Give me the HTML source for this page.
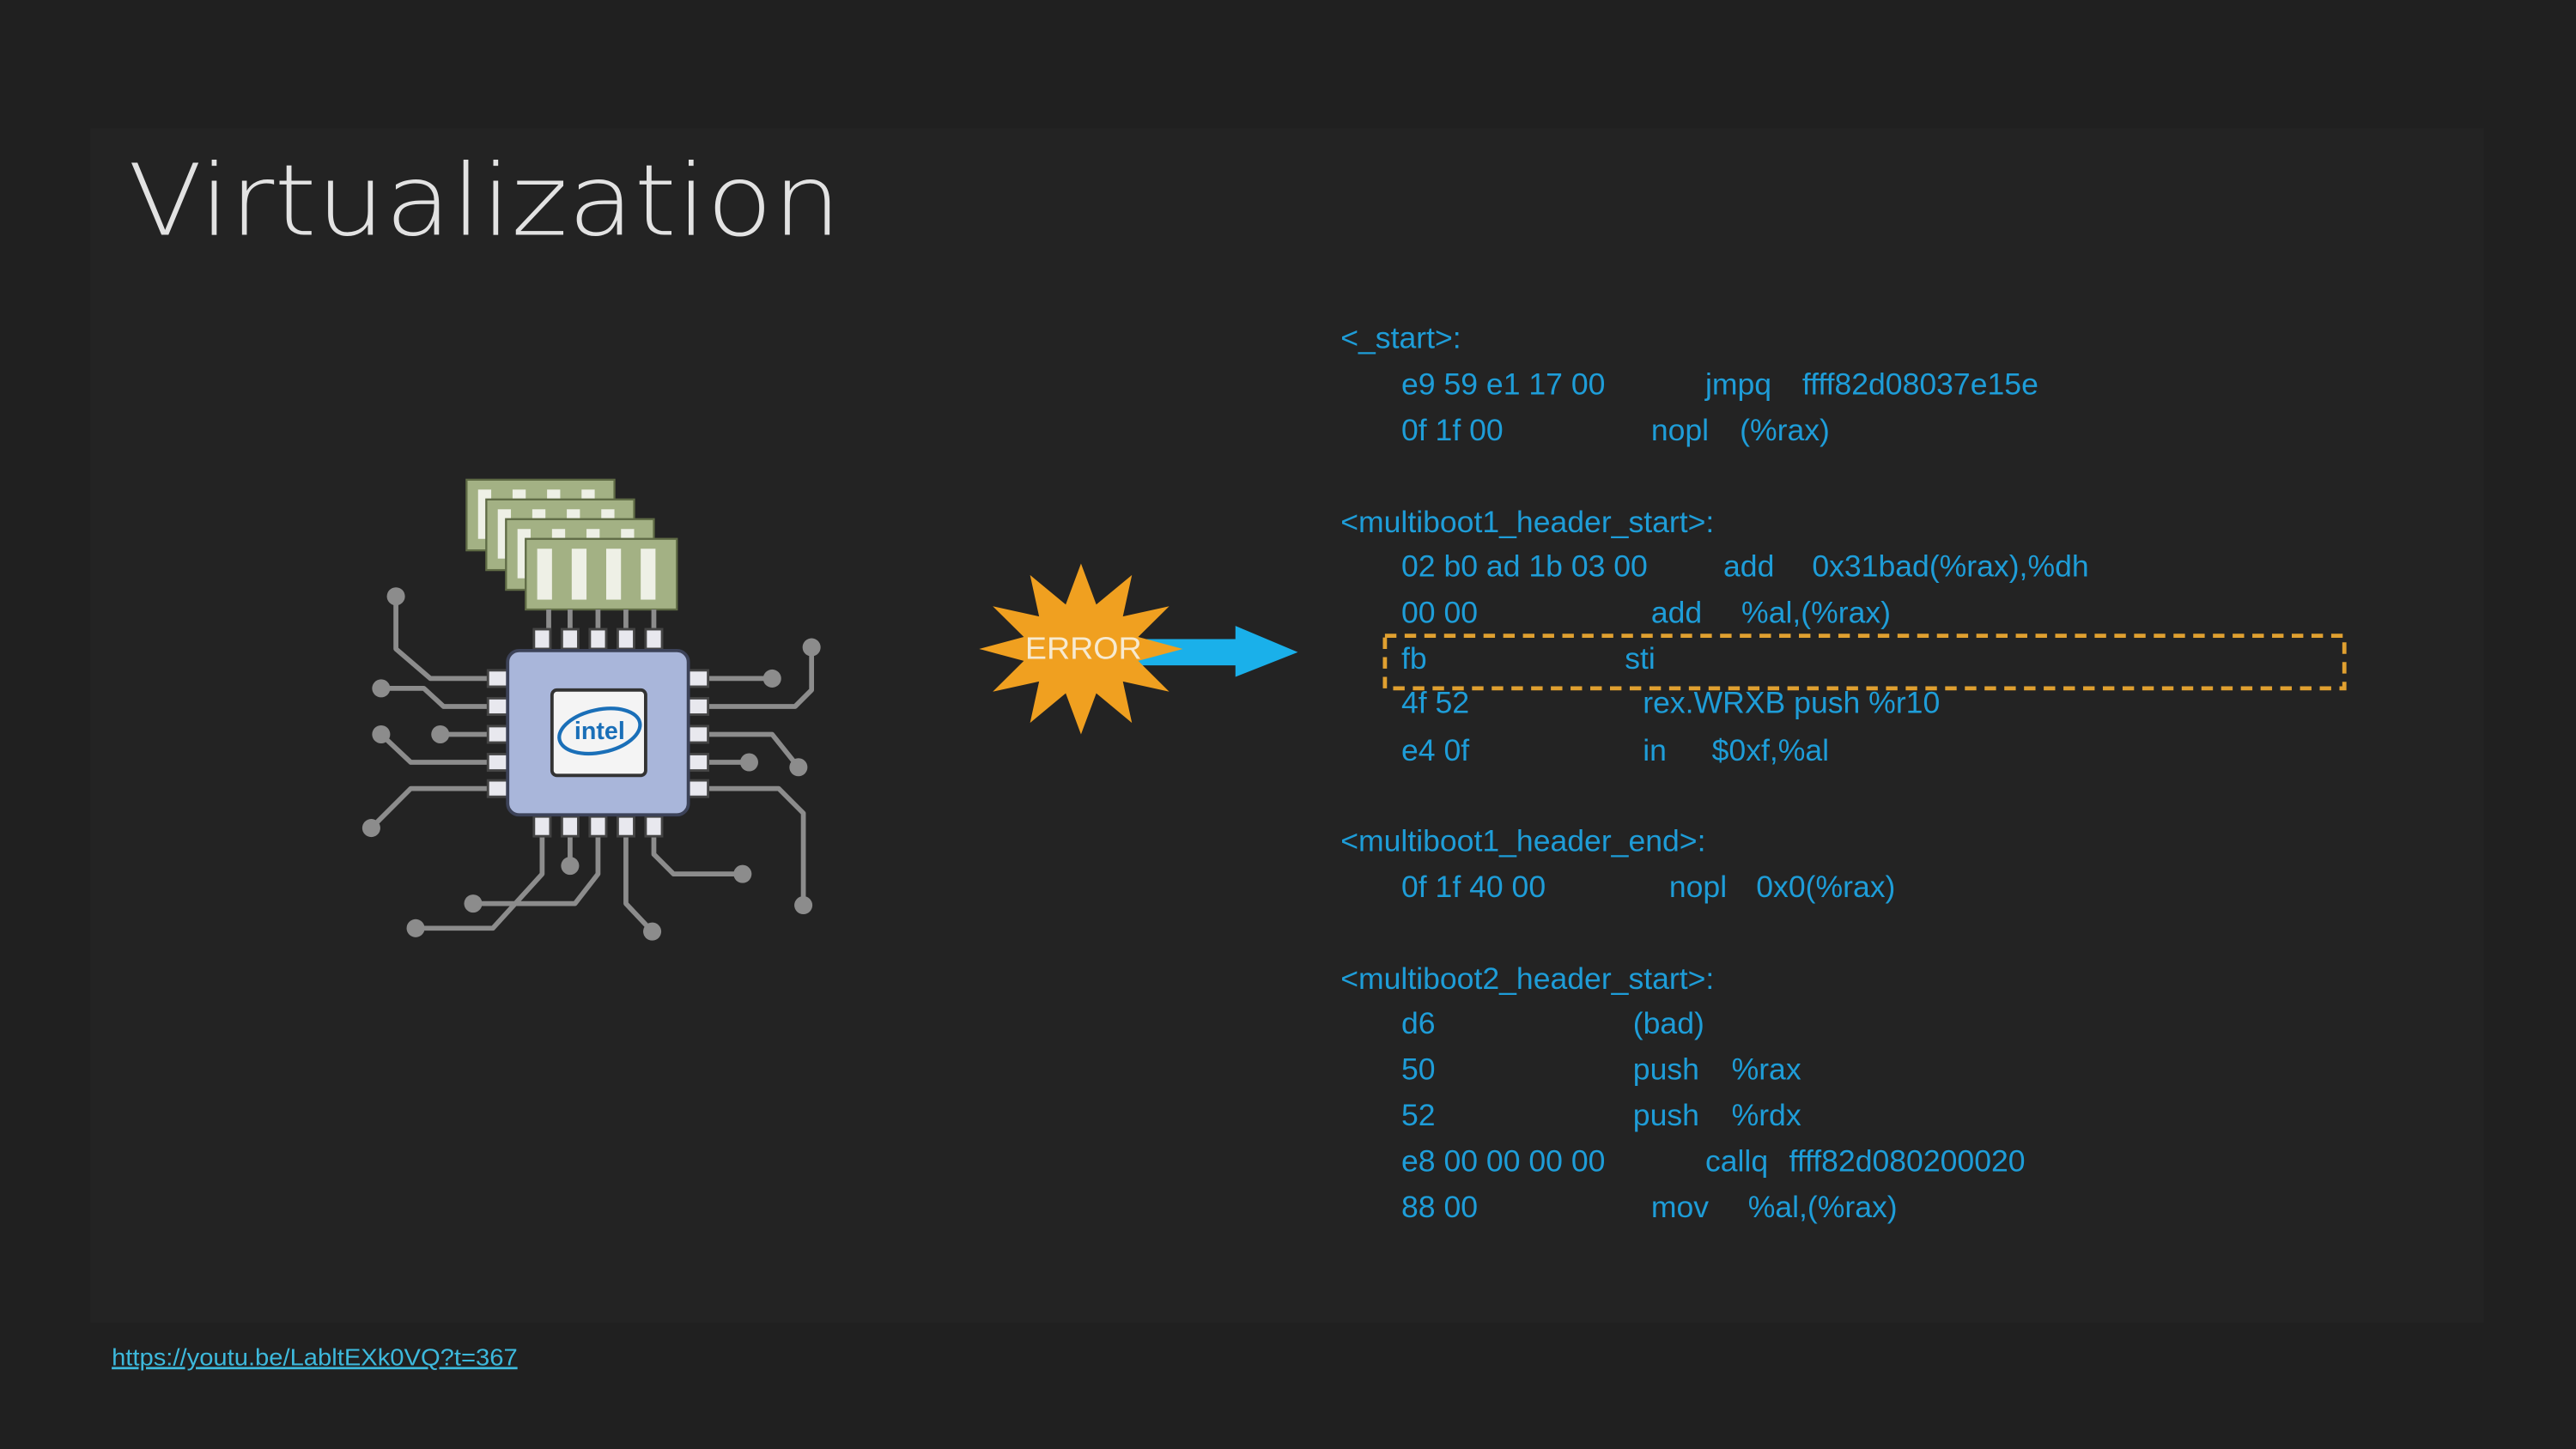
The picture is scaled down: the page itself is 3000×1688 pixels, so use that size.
<!DOCTYPE html>
<html><head><meta charset="utf-8"><style>
html,body{margin:0;padding:0;background:#202020;}
svg{display:block}
</style></head><body>
<svg width="3000" height="1688" viewBox="0 0 1568 882" preserveAspectRatio="none" xmlns="http://www.w3.org/2000/svg">
<rect x="0" y="0" width="1568" height="882" fill="#202020"/>
<rect x="55" y="78" width="1457" height="727" fill="#232323"/>
<text x="78" y="143" font-family="'DejaVu Sans', 'Liberation Sans', sans-serif" font-weight="200" font-size="60" fill="#e2e2e2" textLength="434" lengthAdjust="spacingAndGlyphs">Virtualization</text>

<!-- RAM sticks -->
<g stroke="#5f6b45" stroke-width="1.2">
<g><rect x="284" y="292" width="90" height="43" fill="#a3b184"/><g fill="#eef0e6" stroke="none"><rect x="291" y="298" width="8" height="30"/><rect x="312" y="298" width="8" height="30"/><rect x="333" y="298" width="8" height="30"/><rect x="354" y="298" width="8" height="30"/></g></g>
<g><rect x="296" y="304" width="90" height="43" fill="#a3b184"/><g fill="#eef0e6" stroke="none"><rect x="303" y="310" width="8" height="30"/><rect x="324" y="310" width="8" height="30"/><rect x="345" y="310" width="8" height="30"/><rect x="366" y="310" width="8" height="30"/></g></g>
<g><rect x="308" y="316" width="90" height="43" fill="#a3b184"/><g fill="#eef0e6" stroke="none"><rect x="315" y="322" width="8" height="30"/><rect x="336" y="322" width="8" height="30"/><rect x="357" y="322" width="8" height="30"/><rect x="378" y="322" width="8" height="30"/></g></g>
<g><rect x="320" y="328" width="92" height="43" fill="#a3b184"/><g fill="#eef0e6" stroke="none"><rect x="327" y="334" width="9" height="31"/><rect x="348" y="334" width="9" height="31"/><rect x="369" y="334" width="9" height="31"/><rect x="390" y="334" width="9" height="31"/></g></g>
</g>

<!-- traces -->
<g stroke="#8c8c8c" stroke-width="3" fill="none" stroke-linejoin="round">
<path d="M334 371V385 M347 371V385 M364 371V385 M381 371V385 M398 371V385"/>
<path d="M241 363V395L262 413H298"/>
<path d="M232 419H258L270 430H298"/>
<path d="M268 447H298"/>
<path d="M232 447L250 464H298"/>
<path d="M226 504L250 480H298"/>
<path d="M430 413H470"/>
<path d="M494 394V420L484 430H430"/>
<path d="M430 447H470L486 467"/>
<path d="M430 464H456"/>
<path d="M430 480H474L489 495V551"/>
<path d="M330 507V532L300 565H253"/>
<path d="M347 507V527"/>
<path d="M364 507V532L350 550H288"/>
<path d="M381 507V550L397 567"/>
<path d="M398 507V520L410 532H452"/>
</g>
<g fill="#8c8c8c">
<circle cx="241" cy="363" r="5.5"/><circle cx="232" cy="419" r="5.5"/><circle cx="268" cy="447" r="5.5"/><circle cx="232" cy="447" r="5.5"/><circle cx="226" cy="504" r="5.5"/>
<circle cx="470" cy="413" r="5.5"/><circle cx="494" cy="394" r="5.5"/><circle cx="486" cy="467" r="5.5"/><circle cx="456" cy="464" r="5.5"/><circle cx="489" cy="551" r="5.5"/>
<circle cx="253" cy="565" r="5.5"/><circle cx="347" cy="527" r="5.5"/><circle cx="288" cy="550" r="5.5"/><circle cx="397" cy="567" r="5.5"/><circle cx="452" cy="532" r="5.5"/>
</g>
<!-- pads -->
<g fill="#e8e8ee" stroke="#444" stroke-width="1.5">
<rect x="325" y="383" width="10" height="12"/><rect x="342" y="383" width="10" height="12"/><rect x="359" y="383" width="10" height="12"/><rect x="376" y="383" width="10" height="12"/><rect x="393" y="383" width="10" height="12"/>
<rect x="325" y="497" width="10" height="12"/><rect x="342" y="497" width="10" height="12"/><rect x="359" y="497" width="10" height="12"/><rect x="376" y="497" width="10" height="12"/><rect x="393" y="497" width="10" height="12"/>
<rect x="297" y="408" width="12" height="10"/><rect x="297" y="425" width="12" height="10"/><rect x="297" y="442" width="12" height="10"/><rect x="297" y="459" width="12" height="10"/><rect x="297" y="475" width="12" height="10"/>
<rect x="419" y="408" width="12" height="10"/><rect x="419" y="425" width="12" height="10"/><rect x="419" y="442" width="12" height="10"/><rect x="419" y="459" width="12" height="10"/><rect x="419" y="475" width="12" height="10"/>
</g>
<!-- chip -->
<rect x="309" y="396" width="110" height="100" rx="7" fill="#a9b6da" stroke="#3c4258" stroke-width="2"/>
<rect x="336" y="420" width="57" height="52" rx="3" fill="#f4f4f4" stroke="#333" stroke-width="2"/>
<ellipse cx="365" cy="445" rx="25" ry="13" fill="none" stroke="#1a6fb8" stroke-width="2.2" transform="rotate(-12 365 445)"/>
<text x="365" y="450" text-anchor="middle" font-family="'Liberation Sans', sans-serif" font-weight="bold" font-size="15" fill="#1a6fb8">intel</text>

<!-- error burst & arrow -->
<path d="M690 389H752V381L790 397L752 412V405H690Z" fill="#1ab0ea"/>
<polygon fill="#f0a020" points="720,395 692.8,402.3 711.7,421 683.5,414.8 689,440 667.3,422 658,447 648.7,422 627,440 632.5,414.8 604.3,421 623.2,402.3 596,395 623.2,387.7 604.3,369 632.5,375.2 627,350 648.7,368 658,343 667.3,368 689,350 683.5,375.2 711.7,369 692.8,387.7"/>
<text x="624" y="401" font-family="'Liberation Sans', sans-serif" font-size="19" fill="#f7ead0" textLength="71" lengthAdjust="spacingAndGlyphs">ERROR</text>

<!-- code -->
<g font-family="'Liberation Sans', sans-serif" font-size="18.6" fill="#1e9dd8">
<text x="816" y="212">&lt;_start&gt;:</text>
<text x="853" y="240">e9 59 e1 17 00</text><text x="1038" y="240">jmpq</text><text x="1097" y="240">ffff82d08037e15e</text>
<text x="853" y="268">0f 1f 00</text><text x="1005" y="268">nopl</text><text x="1059" y="268">(%rax)</text>
<text x="816" y="324">&lt;multiboot1_header_start&gt;:</text>
<text x="853" y="351">02 b0 ad 1b 03 00</text><text x="1049" y="351">add</text><text x="1103" y="351">0x31bad(%rax),%dh</text>
<text x="853" y="379">00 00</text><text x="1005" y="379">add</text><text x="1060" y="379">%al,(%rax)</text>
<text x="853" y="407">fb</text><text x="989" y="407">sti</text>
<text x="853" y="434">4f 52</text><text x="1000" y="434">rex.WRXB push %r10</text>
<text x="853" y="463">e4 0f</text><text x="1000" y="463">in</text><text x="1042" y="463">$0xf,%al</text>
<text x="816" y="518">&lt;multiboot1_header_end&gt;:</text>
<text x="853" y="546">0f 1f 40 00</text><text x="1016" y="546">nopl</text><text x="1069" y="546">0x0(%rax)</text>
<text x="816" y="602">&lt;multiboot2_header_start&gt;:</text>
<text x="853" y="629">d6</text><text x="994" y="629">(bad)</text>
<text x="853" y="657">50</text><text x="994" y="657">push</text><text x="1054" y="657">%rax</text>
<text x="853" y="685">52</text><text x="994" y="685">push</text><text x="1054" y="685">%rdx</text>
<text x="853" y="713">e8 00 00 00 00</text><text x="1038" y="713">callq</text><text x="1089" y="713">ffff82d080200020</text>
<text x="853" y="741">88 00</text><text x="1005" y="741">mov</text><text x="1064" y="741">%al,(%rax)</text>
</g>
<rect x="843" y="387" width="584" height="32" fill="none" stroke="#e0a030" stroke-width="2.5" stroke-dasharray="7,5"/>

<text x="68" y="831" font-family="'Liberation Sans', sans-serif" font-size="14.5" fill="#3db9dc" text-decoration="underline" textLength="247" lengthAdjust="spacingAndGlyphs">https://youtu.be/LabltEXk0VQ?t=367</text>
</svg>
</body></html>
